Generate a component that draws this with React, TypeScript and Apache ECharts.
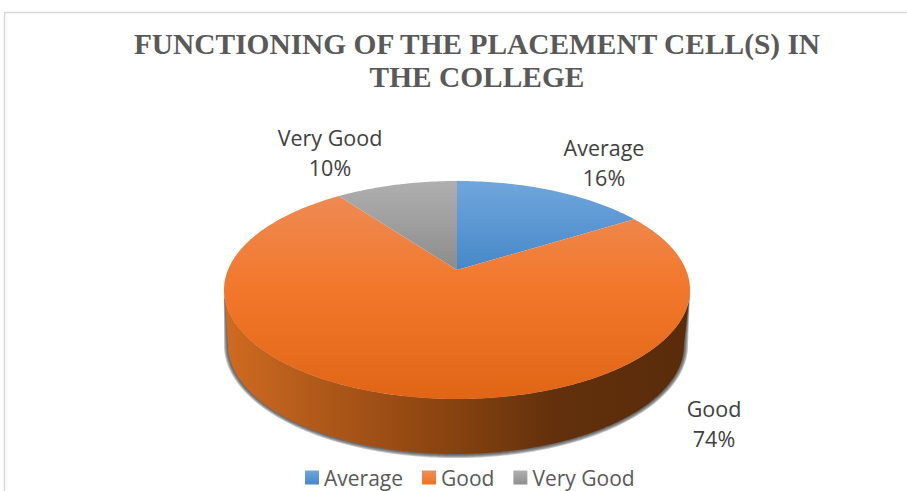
import React, { useEffect, useRef } from "react";
import * as echarts from "echarts";

const categories = ["Average", "Good", "Very Good"];
const percents = [16, 74, 10];
const titleLines = ["FUNCTIONING OF THE PLACEMENT CELL(S) IN", "THE COLLEGE"];

const TOP = { cx: 457, cy: 290, rx: 233, ry: 109 };
const BOTTOM = { cx: 456, cy: 345, rx: 228, ry: 109 };
const APEX = [457, 270];
const PERSPECTIVE = 0.84;
const LABEL_POS = [[604, 162], [714, 423], [330, 152]];
const HALO_STEPS = [4, 3, 2, 1];

const G = (x0: number, y0: number, x1: number, y1: number, stops: [number, string][]) =>
  new echarts.graphic.LinearGradient(
    x0, y0, x1, y1,
    stops.map(([offset, color]) => ({ offset, color })),
    true
  );

const topFills = [
  G(0, 181, 0, 270, [[0, "#70a6dd"], [1, "#4688c8"]]),
  G(0, 181, 0, 399, [[0, "#ee8d5a"], [0.5, "#f2772a"], [1, "#e06616"]]),
  G(0, 181, 0, 270, [[0, "#afafaf"], [1, "#8c8c8c"]]),
];
const wallFill = G(228, 0, 684, 0, [
  [0, "#cf6a20"],
  [0.2, "#b0591a"],
  [0.5, "#86420f"],
  [0.72, "#62300c"],
  [1, "#5a2c0a"],
]);
const legendFills = [
  new echarts.graphic.LinearGradient(0, 0, 0, 1, [{ offset: 0, color: "#6fa5dc" }, { offset: 1, color: "#4688c8" }]),
  new echarts.graphic.LinearGradient(0, 0, 0, 1, [{ offset: 0, color: "#ee8d5a" }, { offset: 1, color: "#ef7320" }]),
  new echarts.graphic.LinearGradient(0, 0, 0, 1, [{ offset: 0, color: "#afafaf" }, { offset: 1, color: "#8f8f8f" }]),
];

const total = percents.reduce((a, b) => a + b, 0);
const toRim = (share: number) => {
  const th = share * 2 * Math.PI;
  return 2 * Math.atan2(PERSPECTIVE * Math.sin(th / 2), Math.cos(th / 2));
};
const rimPoint = (e: typeof TOP, t: number) => [e.cx + e.rx * Math.sin(t), e.cy - e.ry * Math.cos(t)];
const arc = (e: typeof TOP, t0: number, t1: number) => {
  const n = Math.max(2, Math.ceil(Math.abs(t1 - t0) / 0.015));
  const pts: number[][] = [];
  for (let i = 0; i <= n; i++) pts.push(rimPoint(e, t0 + ((t1 - t0) * i) / n));
  return pts;
};

const makeRender = (idx: number) => (_p: any, api: any) => {
  const value = api.value(0);
  const before = percents.slice(0, idx).reduce((a, b) => a + b, 0);
  const t0 = toRim(before / total);
  const t1 = toRim((before + value) / total);
  const children: any[] = [];
  const w0 = Math.max(t0, Math.PI / 2);
  const w1 = Math.min(t1, (3 * Math.PI) / 2);
  if (w1 > w0) {
    HALO_STEPS.forEach((d) => {
      const halo = { cx: BOTTOM.cx, cy: BOTTOM.cy, rx: BOTTOM.rx + d, ry: BOTTOM.ry + d };
      children.push({
        type: "polygon",
        shape: { points: [...arc(TOP, w0, w1), ...arc(halo, w1, w0)] },
        style: { fill: "rgba(60,60,60,0.3)" },
      });
    });
    children.push({
      type: "polygon",
      shape: { points: [...arc(TOP, w0, w1), ...arc(BOTTOM, w1, w0)] },
      style: { fill: wallFill },
    });
  }
  children.push({
    type: "polygon",
    shape: { points: [APEX, ...arc(TOP, t0, t1)] },
    style: { fill: topFills[idx] },
  });
  children.push({
    type: "text",
    style: {
      x: LABEL_POS[idx][0],
      y: LABEL_POS[idx][1],
      text: `${categories[idx]}\n${value}%`,
      fill: "#404040",
      font: '21.5px "Open Sans"',
      align: "center",
      verticalAlign: "middle",
      lineHeight: 30,
    },
  });
  return { type: "group", children };
};

export default function App() {
  const ref = useRef<HTMLDivElement>(null);
  useEffect(() => {
    const chart = echarts.init(ref.current!, undefined, { renderer: "svg" });
    chart.setOption({
      animation: false,
      backgroundColor: "#ffffff",
      title: {
        text: titleLines.join("\n"),
        left: 472,
        top: 22,
        textAlign: "center",
        textStyle: {
          fontFamily: '"Liberation Serif"',
          fontWeight: "bold",
          fontSize: 29.4,
          lineHeight: 33,
          color: "#595959",
        },
      },
      legend: {
        left: 300,
        top: 462,
        itemWidth: 14,
        itemHeight: 14,
        itemGap: 19,
        selectedMode: false,
        textStyle: { fontFamily: '"Open Sans"', fontSize: 21, color: "#595959" },
        data: categories.map((name, i) => ({ name, icon: "rect", itemStyle: { color: legendFills[i] } })),
      },
      graphic: [
        {
          type: "polyline",
          silent: true,
          shape: { points: [[4.5, 491], [4.5, 12.5], [907, 12.5]] },
          style: { stroke: "#d9d9d9", lineWidth: 1.5, fill: "none" },
        },
      ],
      series: categories.map((name, i) => ({
        type: "custom",
        name,
        coordinateSystem: "none",
        renderItem: makeRender(i),
        itemStyle: { color: legendFills[i] },
        data: [[percents[i]]],
        silent: true,
      })),
    });
    return () => chart.dispose();
  }, []);
  return <div ref={ref} style={{ position: "fixed", left: 0, top: 0, width: 907, height: 491 }} />;
}
